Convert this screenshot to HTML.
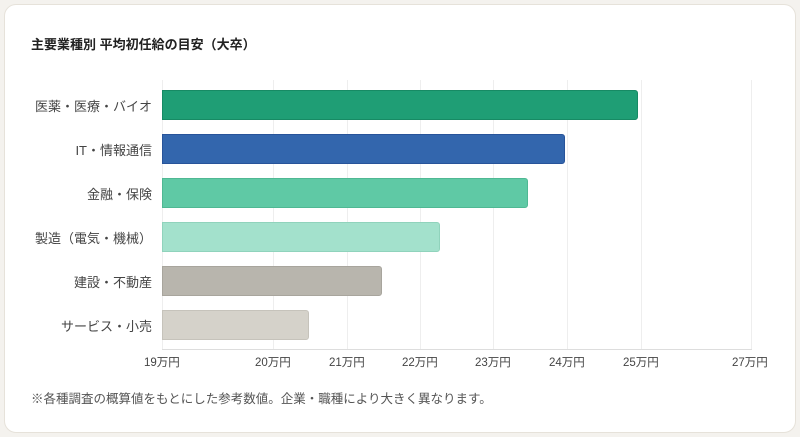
<!DOCTYPE html>
<html><head><meta charset="utf-8"><style>
body{margin:0;width:800px;height:437px;background:#f4f2ee;font-family:"Liberation Sans","Noto Sans CJK JP",sans-serif;position:relative;overflow:hidden}
.card{position:absolute;left:4px;top:4px;width:790px;height:427px;background:#fff;border:1px solid #e6e2da;border-radius:12px}
.t{position:absolute;font-size:13px;color:#444;white-space:nowrap}
.x{font-size:11.5px;top:354px}
.g{position:absolute;top:80px;height:269px;width:1px;background:#eeeeee}
.bar{position:absolute;left:162px;height:30px;border-radius:0 3px 3px 0;box-sizing:border-box}
</style></head><body>
<div class="card"></div>
<div class="t" style="left:31px;top:34px;font-size:13px;font-weight:bold;color:#222">主要業種別 平均初任給の目安（大卒）</div>
<div class="g" style="left:162px"></div>
<div class="g" style="left:273px"></div>
<div class="g" style="left:347px"></div>
<div class="g" style="left:420px"></div>
<div class="g" style="left:493px"></div>
<div class="g" style="left:567px"></div>
<div class="g" style="left:641px"></div>
<div class="g" style="left:751px"></div>
<div style="position:absolute;left:162px;top:349px;width:590px;height:1px;background:#ddd"></div>
<div class="bar" style="top:90px;width:476px;background:#1f9e75;border:1px solid #178a64"></div>
<div class="bar" style="top:134px;width:403px;background:#3366ad;border:1px solid #28549a"></div>
<div class="bar" style="top:178px;width:366px;background:#5fc9a5;border:1px solid #4fb893"></div>
<div class="bar" style="top:222px;width:278px;background:#a3e1cc;border:1px solid #90d3bc"></div>
<div class="bar" style="top:266px;width:220px;background:#b8b5ad;border:1px solid #a8a59d"></div>
<div class="bar" style="top:310px;width:147px;background:#d5d2ca;border:1px solid #c6c3bb"></div>
<div class="t" style="right:648px;top:96px">医薬・医療・バイオ</div>
<div class="t" style="right:648px;top:140px">IT・情報通信</div>
<div class="t" style="right:648px;top:184px">金融・保険</div>
<div class="t" style="right:648px;top:228px">製造（電気・機械）</div>
<div class="t" style="right:648px;top:272px">建設・不動産</div>
<div class="t" style="right:648px;top:316px">サービス・小売</div>
<div class="t x" style="left:144px">19万円</div>
<div class="t x" style="left:255px">20万円</div>
<div class="t x" style="left:329px">21万円</div>
<div class="t x" style="left:402px">22万円</div>
<div class="t x" style="left:475px">23万円</div>
<div class="t x" style="left:549px">24万円</div>
<div class="t x" style="left:623px">25万円</div>
<div class="t x" style="left:732px">27万円</div>
<div class="t" style="left:31px;top:388px;font-size:12.5px;color:#555">※各種調査の概算値をもとにした参考数値。企業・職種により大きく異なります。</div>
</body></html>
